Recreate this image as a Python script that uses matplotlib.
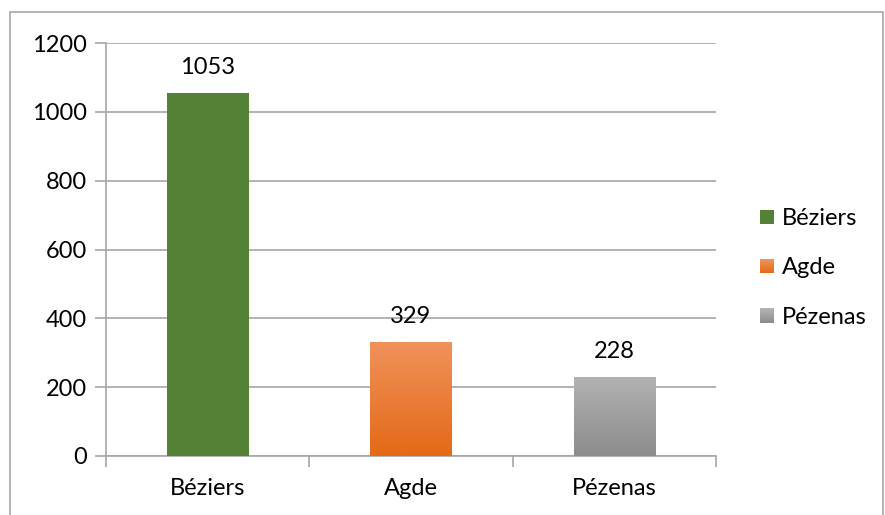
import matplotlib.pyplot as plt
import matplotlib.patches as mpatches
from matplotlib.colors import LinearSegmentedColormap
from matplotlib.legend_handler import HandlerBase
import numpy as np

plt.rcParams['font.family'] = ['Lato', 'DejaVu Sans']

villes = ['Béziers', 'Agde', 'Pézenas']
valeurs = [1053, 329, 228]
# couleur haut / bas de chaque barre (dégradé)
haut = ['#538135', '#f0915a', '#b2b2b2']
bas = ['#538135', '#e46a17', '#8c8c8c']

FS = 17

fig = plt.figure(figsize=(8.85, 5.15), dpi=100)
ax = fig.add_axes([106 / 885, 1 - 456 / 515, 610 / 885, 413 / 515])

# cadre du graphique
fig.patches.append(mpatches.Rectangle((10 / 885, -0.05), 873 / 885, 1 - 12 / 515 + 0.05,
                                      transform=fig.transFigure, fill=False,
                                      edgecolor='#a6a6a6', linewidth=1.2))

x = np.arange(len(villes))
bars = ax.bar(x, valeurs, width=0.4, color='none', zorder=3)
for b, h, c1, c2 in zip(bars, valeurs, haut, bas):
    cmap = LinearSegmentedColormap.from_list('g', [c2, c1])
    grad = np.linspace(0, 1, 100).reshape(-1, 1)
    ax.imshow(grad, cmap=cmap, origin='lower', aspect='auto', zorder=3,
              extent=(b.get_x(), b.get_x() + b.get_width(), 0, h))
    ax.text(b.get_x() + b.get_width() / 2, h + 45, str(h), ha='center', va='bottom',
            fontsize=FS, color='black')

ax.set_xlim(-0.5, len(villes) - 0.5)
ax.set_ylim(0, 1200)
ax.set_yticks(range(0, 1201, 200))
ax.grid(axis='y', color='#a6a6a6', linewidth=1.2, zorder=0)
ax.set_axisbelow(True)
ax.set_xticks(x)
ax.set_xticklabels(villes)
ax.set_xticks(np.arange(-0.5, len(villes), 1), minor=True)
ax.tick_params(axis='x', which='major', length=0, pad=16, labelsize=FS)
ax.tick_params(axis='x', which='minor', length=8, color='#a6a6a6', width=1.2)
ax.tick_params(axis='y', length=8, color='#a6a6a6', width=1.2, labelsize=FS, pad=6)
for s in ['top', 'right']:
    ax.spines[s].set_visible(False)
for s in ['left', 'bottom']:
    ax.spines[s].set_color('#a6a6a6')
    ax.spines[s].set_linewidth(1.2)


class HandlerDegrade(HandlerBase):
    def __init__(self, c1, c2):
        super().__init__()
        self.c1, self.c2 = c1, c2

    def create_artists(self, legend, orig, xd, yd, w, h, fontsize, trans):
        n = 14
        cmap = LinearSegmentedColormap.from_list('g', [self.c2, self.c1])
        arts = []
        s = w
        for i in range(n):
            r = mpatches.Rectangle((xd, yd + s * i / n + (h - s) / 2), s, s / n + 0.1,
                                   facecolor=cmap(i / (n - 1)), edgecolor='none',
                                   transform=trans)
            arts.append(r)
        return arts


handles = [mpatches.Patch(label=v) for v in villes]
hmap = {hd: HandlerDegrade(c1, c2) for hd, c1, c2 in zip(handles, haut, bas)}
fig.legend(handles=handles, handler_map=hmap, loc='center left',
           bbox_to_anchor=(760 / 885, 1 - 268 / 515), frameon=False, fontsize=FS,
           borderaxespad=0, borderpad=0,
           labelspacing=1.2, handlelength=0.6, handletextpad=0.32)

fig.savefig('out.png', dpi=100)
